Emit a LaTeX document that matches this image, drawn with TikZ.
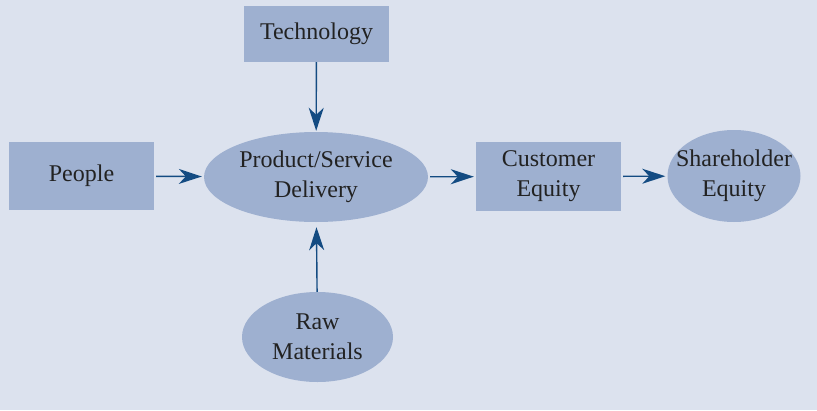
\documentclass[tikz,border=0pt]{standalone}
\usepackage{fontspec}
\setmainfont{Liberation Serif}
\usetikzlibrary{arrows.meta,shapes.geometric}
\definecolor{bg}{HTML}{DCE2EE}
\definecolor{boxfill}{HTML}{9EB0D0}
\definecolor{arrowc}{HTML}{134B82}
\definecolor{txt}{HTML}{222222}
\tikzset{
  lbl/.style={inner sep=0pt, align=center, text=txt, font=\fontsize{24}{30}\selectfont},
  rectbox/.style={rectangle, fill=boxfill, draw=none, inner sep=0pt, lbl},
  ellbox/.style={ellipse, fill=boxfill, draw=none, inner sep=0pt},
  flow/.style={draw=arrowc, line width=1.4pt, -{Stealth[length=23pt,width=15pt,inset=7pt]}, shorten >=2pt, shorten <=2pt}
}
\begin{document}
\begin{tikzpicture}[x=1pt,y=-1pt]
\fill[bg] (0,0) rectangle (817,410);
\useasboundingbox (0,0) rectangle (817,410);
\node[rectbox, minimum width=145pt, minimum height=56pt] (tech) at (316.5,34) {Technology};
\node[rectbox, minimum width=145pt, minimum height=68pt] (people) at (81.5,176) {People};
\node[ellbox, minimum width=224pt, minimum height=90pt] (psd) at (316,177) {};
\node[lbl] (psdT) at (psd.center) {Product/Service\\Delivery};
\node[rectbox, minimum width=145pt, minimum height=69pt] (ce) at (548.5,176.5) {Customer\\Equity};
\node[ellbox, minimum width=133pt, minimum height=92pt] (se) at (734,176) {};
\node[lbl] (seT) at (se.center) {Shareholder\\Equity};
\node[ellbox, minimum width=151pt, minimum height=90pt] (raw) at (317.5,337) {};
\node[lbl] (rawT) at (raw.center) {Raw\\Materials};
\draw[flow] (people) -- (psd);
\draw[flow, shorten <=0pt, shorten >=1pt] (tech) -- (psd);
\draw[flow, shorten <=0pt, shorten >=5pt] (raw) -- (psd);
\draw[flow] (psd) -- (ce);
\draw[flow] (ce) -- (se);
\end{tikzpicture}
\end{document}
